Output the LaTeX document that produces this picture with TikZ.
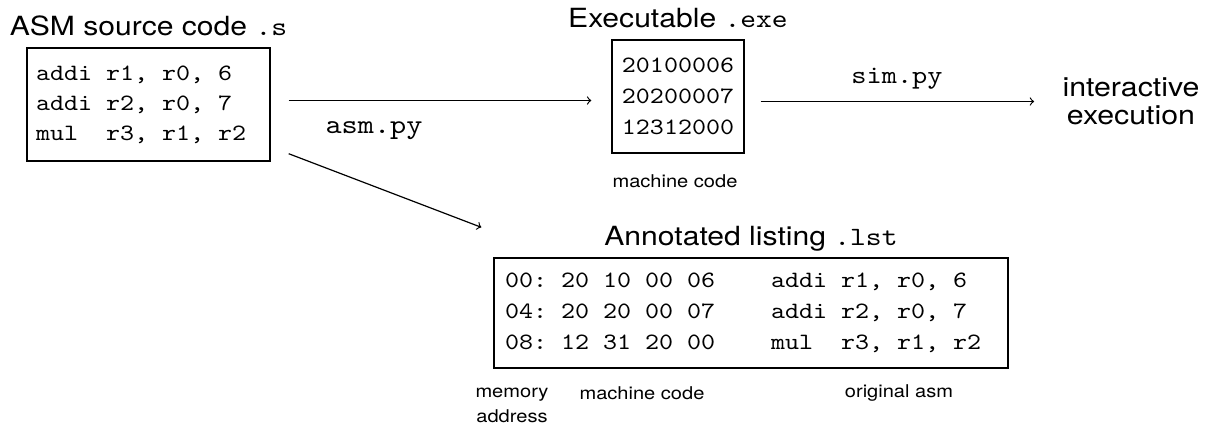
\documentclass[tikz,border=0pt]{standalone}
\usepackage{fontspec}
\setmainfont{TeX Gyre Heros}[FakeStretch=1.14]
\setmonofont{lmmono10-regular.otf}[FakeStretch=1.14]
\usetikzlibrary{positioning}

% one fixed-width blank in code text
\newcommand\sk{\hphantom{0}}

\begin{document}
\begin{tikzpicture}[
x=0.5pt, y=-0.5pt,
every node/.style={inner sep=0pt},
title/.style={font=\fontsize{13.2}{15}\selectfont, anchor=base},
codebox/.style={draw, line width=0.7pt, font=\fontsize{11.7}{15.5}\selectfont\ttfamily},
note/.style={font=\fontsize{8.8}{12.5}\selectfont, align=center},
flow/.style={->, line width=0.6pt}
]
\useasboundingbox (0,0) rectangle (1211,430);

% the three files
\node[codebox, align=left, text width=112.5pt, inner xsep=4.5pt, minimum height=56.5pt,
  font=\fontsize{11.7}{15}\selectfont\ttfamily] (src) at (148.5,104.5)
{addi\sk r1,\sk r0,\sk 6\\addi\sk r2,\sk r0,\sk 7\\mul\sk\sk r3,\sk r1,\sk r2};

\node[codebox, align=center, minimum width=66pt, minimum height=56.5pt] (exe) at (678,96.5)
{20100006\\20200007\\12312000};

\node[codebox, align=left, text width=246pt, inner xsep=5.5pt, minimum height=55pt] (lst) at (751,313)
{00:\sk 20\sk 10\sk 00\sk 06\sk\sk\sk\sk addi\sk r1,\sk r0,\sk 6\\
 04:\sk 20\sk 20\sk 00\sk 07\sk\sk\sk\sk addi\sk r2,\sk r0,\sk 7\\
 08:\sk 12\sk 31\sk 20\sk 00\sk\sk\sk\sk mul\sk\sk r3,\sk r1,\sk r2};

\node[title, above=6pt of src.north, anchor=base] (srctitle) {ASM source code \texttt{.s}};
\node[title, above=6pt of exe.north, anchor=base] (exetitle) {Executable \texttt{.exe}};
\node[title, above=6pt of lst.north, anchor=base] (lsttitle) {Annotated listing \texttt{.lst}};

\node[align=center, font=\fontsize{13.3}{14}\selectfont] (run) at (1131,101) {interactive\\execution};

% tools
\node[font=\fontsize{13.5}{15}\selectfont\ttfamily] (asm) at (374,131) {asm.py};
\node[font=\fontsize{12.7}{15}\selectfont\ttfamily] (sim) at (897,79) {sim.py};

\draw[flow] ([xshift=9pt,yshift=2pt]src.east) -- ([xshift=-10pt,yshift=2pt]src.east -| exe.west);
\draw[flow] ([xshift=8pt,yshift=-2.5pt]exe.east) -- ([xshift=-14pt,yshift=-2.5pt]exe.east -| run.west);
\draw[flow] ([xshift=9pt,yshift=4pt]src.south east) -- ([xshift=-6pt,yshift=15pt]lst.north west);

% notes
\node[note] (exenote) at (675,181) {machine code};
\node[note, anchor=north] (addrnote) at (512,388) {memory\\address};
\node[note] (codenote) at (642,393) {machine code};
\node[note] (asmnote) at (899,393) {original asm};

\end{tikzpicture}
\end{document}
